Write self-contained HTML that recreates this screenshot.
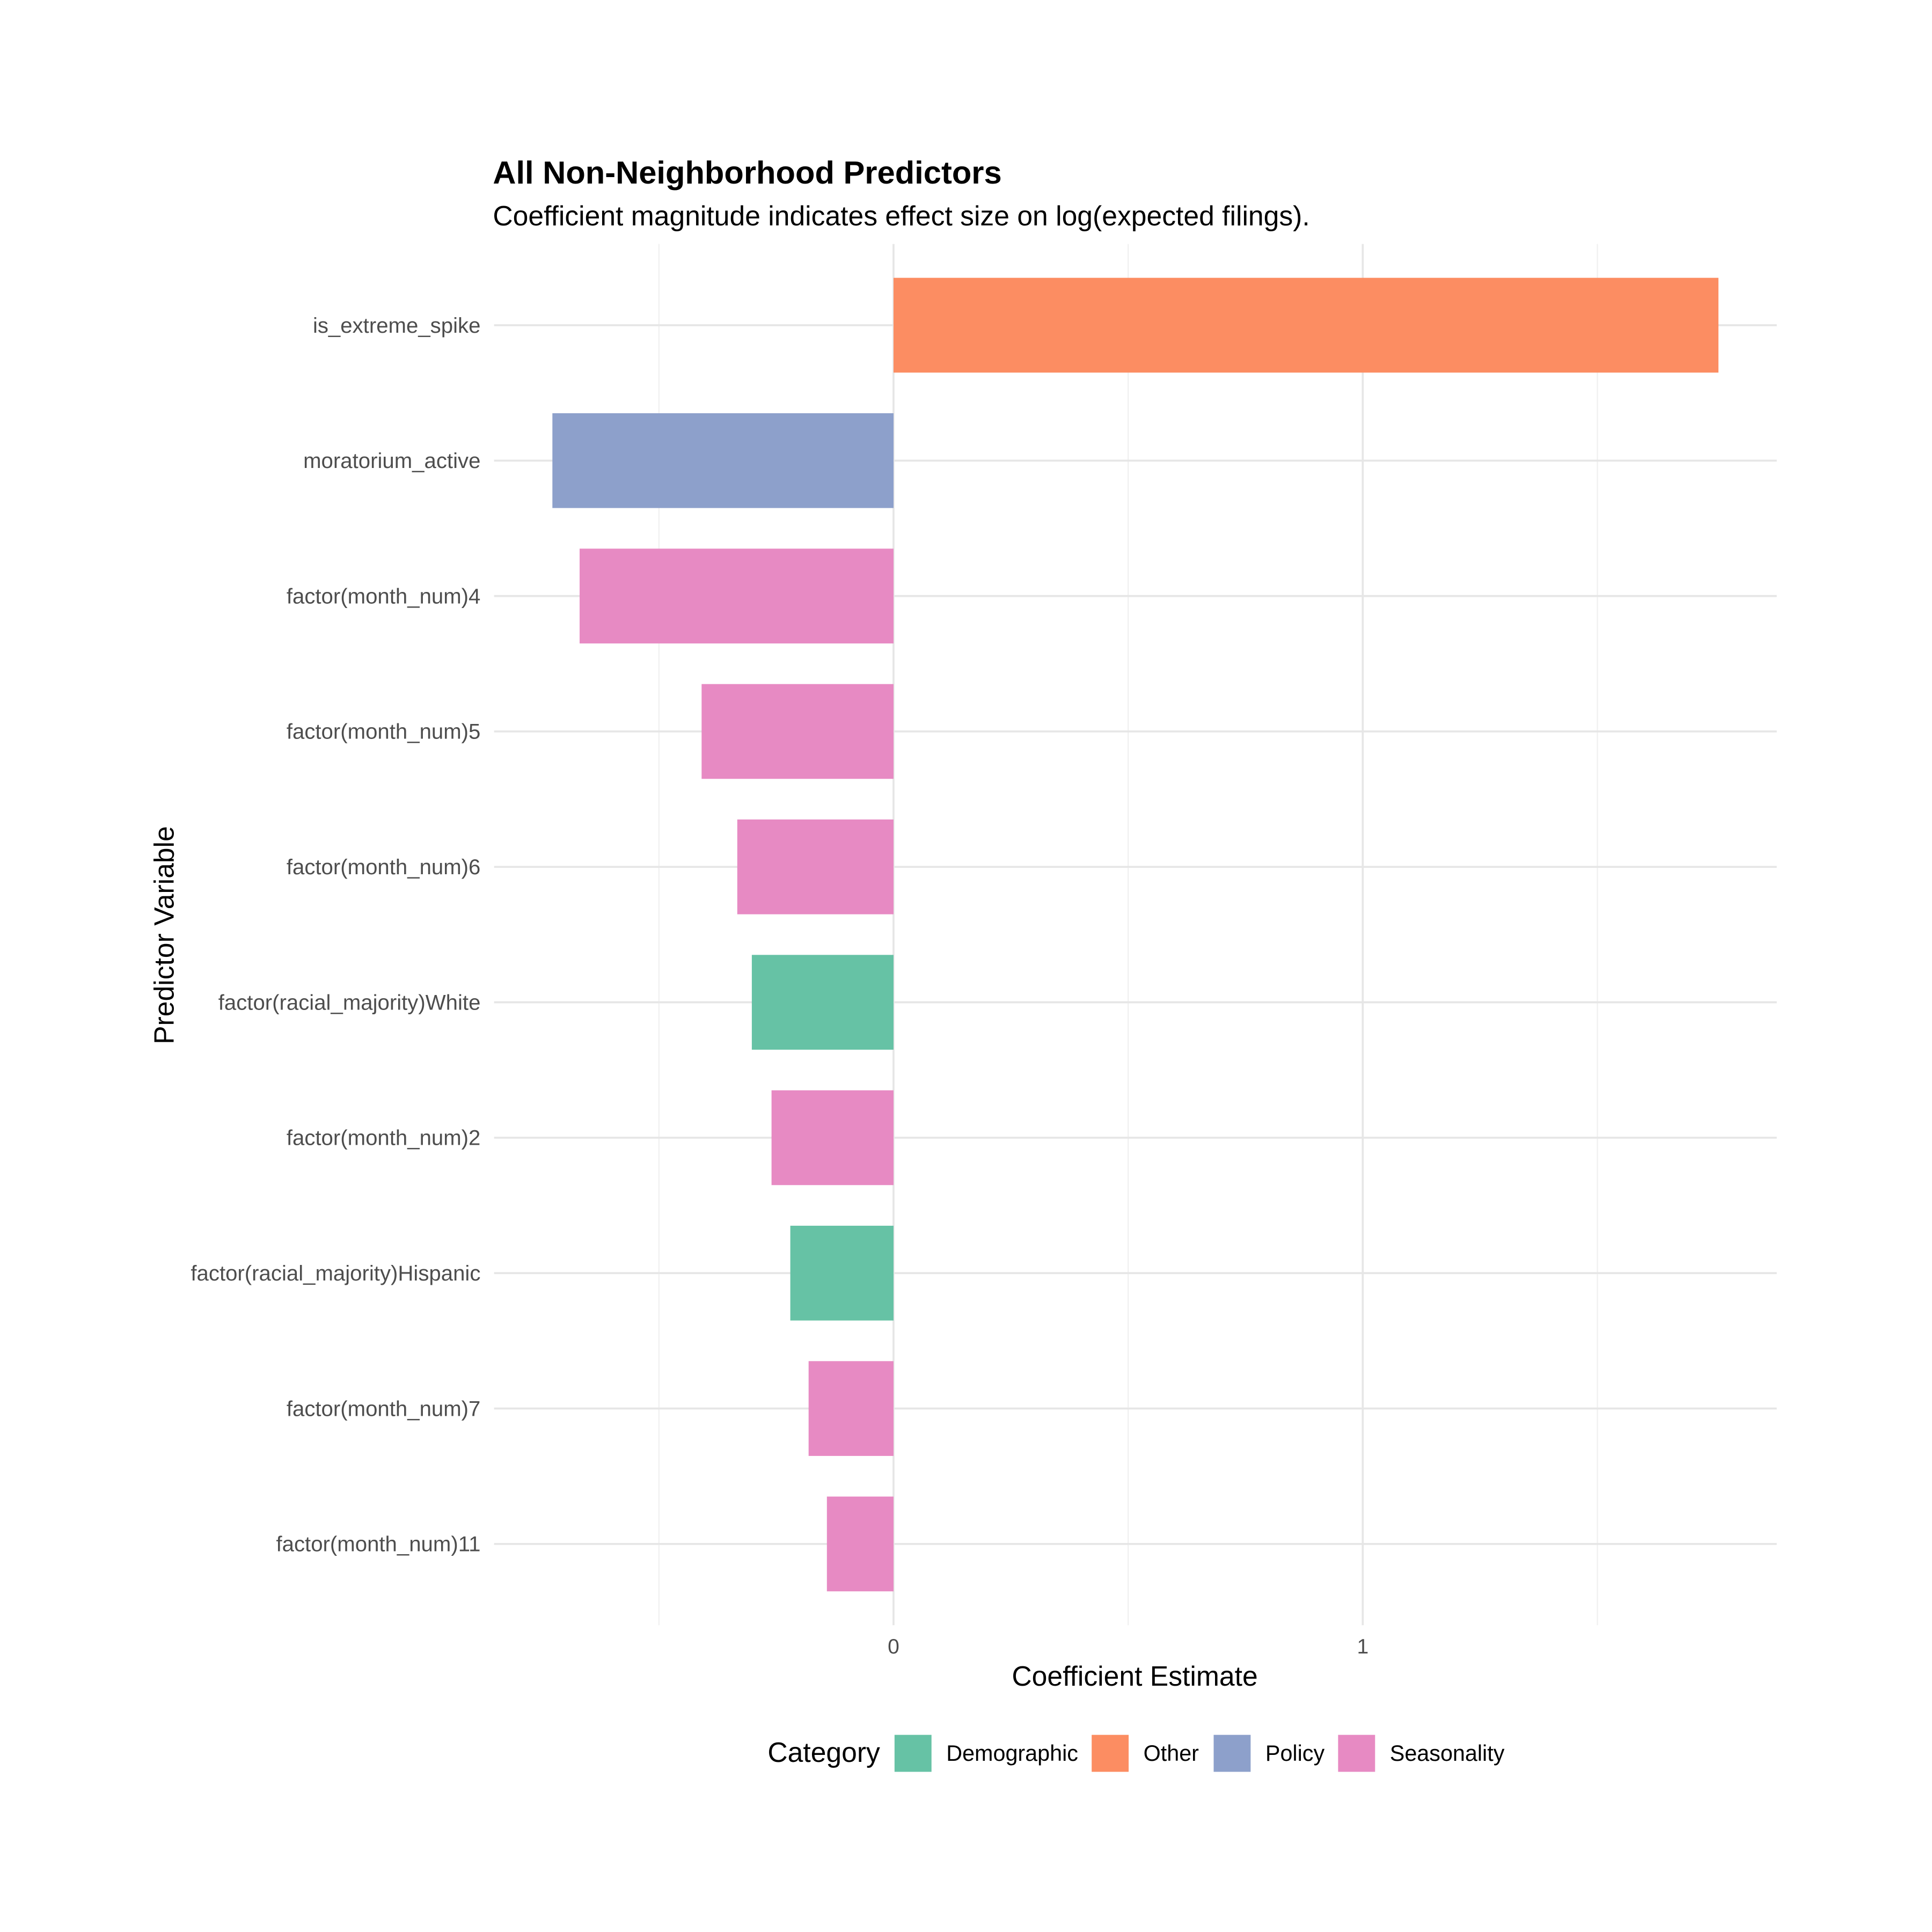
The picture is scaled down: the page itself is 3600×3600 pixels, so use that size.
<!DOCTYPE html>
<html><head><meta charset="utf-8"><style>html,body{margin:0;padding:0;background:#fff;overflow:hidden}svg{display:block}text{font-family:"Liberation Sans",Arial,sans-serif}</style></head>
<body>
<svg id="chart" width="3600" height="3600" viewBox="0 0 1568 1568" xmlns="http://www.w3.org/2000/svg">
<rect width="1568" height="1568" fill="#fff"/>
<text x="400" y="149" font-size="26" font-weight="bold" fill="#000">All Non-Neighborhood Predictors</text>
<text x="400" y="183" font-size="22.5" fill="#000">Coefficient magnitude indicates effect size on log(expected filings).</text>
<g id="grid"></g><g id="bars"></g><g id="axes"></g>
<text x="921" y="1368" font-size="22.5" text-anchor="middle" fill="#000">Coefficient Estimate</text>
<text transform="translate(141,759) rotate(-90)" font-size="22.5" text-anchor="middle" fill="#000">Predictor Variable</text>
<g id="legend"></g>
</svg>
<script>
const categories=["is_extreme_spike","moratorium_active","factor(month_num)4","factor(month_num)5","factor(month_num)6","factor(racial_majority)White","factor(month_num)2","factor(racial_majority)Hispanic","factor(month_num)7","factor(month_num)11"];
const values=[1.758,-0.727,-0.669,-0.409,-0.333,-0.302,-0.260,-0.220,-0.181,-0.142];
const groups=["Other","Policy","Seasonality","Seasonality","Seasonality","Demographic","Seasonality","Demographic","Seasonality","Seasonality"];
const legendLabels=["Demographic","Other","Policy","Seasonality"];
const legendColors=["#66c2a5","#fc8d62","#8da0cb","#e78ac3"];
const majorTicks=[0,1];
const minorTicks=[-0.5,0.5,1.5];
const NS="http://www.w3.org/2000/svg";
const pL=401,pR=1442,pT=198,pB=1319;
const dmin=Math.min(0,...values),dmax=Math.max(0,...values),pad=(dmax-dmin)*0.05;
const x=v=>pL+(v-(dmin-pad))/((dmax+pad)-(dmin-pad))*(pR-pL);
const step=(pB-pT)/(categories.length-1+1.2);
const y=i=>pT+step*(0.6+i);
function mk(t,a,p){const e=document.createElementNS(NS,t);for(const k in a)e.setAttribute(k,a[k]);p.appendChild(e);return e;}
const grid=document.getElementById('grid'),bars=document.getElementById('bars'),axes=document.getElementById('axes'),leg=document.getElementById('legend');
minorTicks.forEach(v=>{const l=mk('line',{x1:x(v),x2:x(v),y1:pT,y2:pB,stroke:'#f0f0f0','stroke-width':1},grid);

});
majorTicks.forEach(v=>{const l=mk('line',{x1:x(v),x2:x(v),y1:pT,y2:pB,stroke:'#e6e6e6','stroke-width':1.6},grid);


const t=mk('text',{x:x(v),y:1342,'font-size':17,'text-anchor':'middle',fill:'#4d4d4d'},axes);t.textContent=v;

});
categories.forEach((c,i)=>{const l=mk('line',{x1:pL,x2:pR,y1:y(i),y2:y(i),stroke:'#e6e6e6','stroke-width':1.6},grid);


const v=values[i],bh=step*0.7;
const r=mk('rect',{x:Math.min(x(0),x(v)),y:y(i)-bh/2,width:Math.abs(x(v)-x(0)),height:bh,fill:legendColors[legendLabels.indexOf(groups[i])]},bars);


const t=mk('text',{x:390,y:y(i)+6,'font-size':17.5,'text-anchor':'end',fill:'#4d4d4d'},axes);t.textContent=c;

});
const lt=mk('text',{x:623,y:1430,'font-size':22.5,fill:'#000'},leg);lt.textContent='Category';


const kx=[726,886,985,1086];
legendLabels.forEach((n,i)=>{const r=mk('rect',{x:kx[i],y:1408,width:30,height:30,fill:legendColors[i]},leg);


const t=mk('text',{x:kx[i]+42,y:1429,'font-size':18,fill:'#000'},leg);t.textContent=n;

});
</script>
</body></html>
